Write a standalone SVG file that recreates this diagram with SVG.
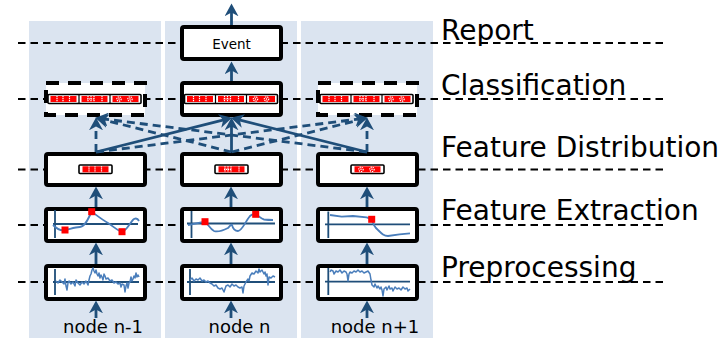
<svg xmlns="http://www.w3.org/2000/svg" xmlns:xlink="http://www.w3.org/1999/xlink" width="721" height="338" viewBox="0 0 721 338">
  <style>
    .panel { fill: #dbe4f0; }
    .guide { stroke: #000; stroke-width: 2; stroke-dasharray: 7.5 5; fill: none; }
    .box { fill: #fff; stroke: #000; stroke-width: 4; }
    .dbox { fill: #fff; stroke: #000; stroke-width: 4; stroke-dasharray: 13 9; }
    .bar { fill: #fff; stroke: #000; stroke-width: 1.6; }
    .axis { stroke: #1f4e79; stroke-width: 1.8; fill: none; }
    .sig { stroke: #4a7ebb; stroke-width: 1.8; fill: none; stroke-linejoin: round; }
    .noisy { stroke: #4a7ebb; stroke-width: 1.5; fill: none; stroke-linejoin: round; }
    .mark { fill: #ff0000; }
    .conn { stroke: #1f4e79; stroke-width: 2.8; fill: none; marker-end: url(#ah); }
    .dash { stroke-dasharray: 8 5; }
    .layer { font-family: "DejaVu Sans", Verdana, sans-serif; font-size: 28px; fill: #000; }
    .nodelbl { font-family: "DejaVu Sans", Verdana, sans-serif; font-size: 18px; fill: #000; text-anchor: middle; }
    .evt { font-family: "DejaVu Sans", Verdana, sans-serif; font-size: 13.5px; fill: #000; text-anchor: middle; }
    .wd { stroke: #fff; stroke-width: 1.2; stroke-dasharray: 1.2 0.8; fill: none; }
  </style>
  <defs>
    <marker id="ah" markerUnits="userSpaceOnUse" viewBox="0 0 12 13" markerWidth="13" markerHeight="14" refX="4" refY="6.5" orient="auto">
      <path d="M0 0 L12 6.5 L0 13 L3.5 6.5 Z" fill="#1f4e79"/>
    </marker>
    <!-- feature cell patterns, 31 x 9 -->
    <g id="s1">
      <rect x="2.5" y="1.5" width="26" height="6" class="mark"/>
      <path d="M9 1.5V7.5 M15 1.5V7.5 M21.5 1.5V7.5" class="wd"/>
    </g>
    <g id="s2">
      <rect x="2.5" y="1.5" width="26" height="6" class="mark"/>
      <path d="M9 1.5V7.5 M12 1.5V7.5 M15 1.5V7.5 M8 4.5H16 M23 1.5V7.5" class="wd"/>
    </g>
    <g id="s3">
      <rect x="2.5" y="1.5" width="26" height="6" class="mark"/>
      <circle cx="9" cy="4.5" r="2.2" class="wd"/>
      <circle cx="20" cy="4.5" r="2.2" class="wd"/>
      <path d="M9 3.8V5.2 M20 3.8V5.2" stroke="#fff" stroke-width="1.2"/>
    </g>
    <!-- three-cell feature vector, 93 x 9 -->
    <g id="vec">
      <rect x="0" y="0" width="93" height="9" rx="1" class="bar"/>
      <use xlink:href="#s1" x="0" y="0"/>
      <use xlink:href="#s2" x="31" y="0"/>
      <use xlink:href="#s3" x="62" y="0"/>
      <path d="M31 0V9 M62 0V9" stroke="#000" stroke-width="1.2"/>
    </g>
  </defs>

  <!-- node columns -->
  <g id="columns">
    <rect class="panel" x="29" y="21" width="132" height="317"/>
    <rect class="panel" x="165" y="21" width="132" height="317"/>
    <rect class="panel" x="301" y="21" width="132" height="317"/>
  </g>

  <!-- layer guides -->
  <g id="guides">
    <line class="guide" x1="18" y1="43" x2="668" y2="43"/>
    <line class="guide" x1="18" y1="99" x2="668" y2="99"/>
    <line class="guide" x1="18" y1="169.5" x2="668" y2="169.5"/>
    <line class="guide" x1="18" y1="225" x2="668" y2="225"/>
    <line class="guide" x1="18" y1="282" x2="668" y2="282"/>
  </g>

  <!-- report -->
  <g id="event">
    <rect class="box" x="182" y="27" width="99" height="32" rx="2"/>
    <text class="evt" x="231.5" y="49">Event</text>
  </g>

  <!-- classification -->
  <g id="class-n-1">
    <rect class="dbox" x="46" y="83" width="99" height="32"/>
    <use xlink:href="#vec" x="48" y="94.5"/>
  </g>
  <g id="class-n">
    <rect class="box" x="182" y="83" width="99" height="32" rx="2"/>
    <use xlink:href="#vec" x="184.5" y="94.5"/>
  </g>
  <g id="class-n+1">
    <rect class="dbox" x="318" y="83" width="99" height="32"/>
    <use xlink:href="#vec" x="320" y="94.5"/>
  </g>

  <!-- feature distribution -->
  <g id="dist-n-1">
    <rect class="box" x="46" y="154" width="99" height="31" rx="2"/>
    <rect class="bar" x="79" y="165" width="33" height="8.5" rx="1"/>
    <use xlink:href="#s1" x="80" y="164.8"/>
  </g>
  <g id="dist-n">
    <rect class="box" x="182" y="154" width="99" height="31" rx="2"/>
    <rect class="bar" x="215" y="165" width="33" height="8.5" rx="1"/>
    <use xlink:href="#s2" x="216" y="164.8"/>
  </g>
  <g id="dist-n+1">
    <rect class="box" x="318" y="154" width="99" height="31" rx="2"/>
    <rect class="bar" x="351" y="165" width="33" height="8.5" rx="1"/>
    <use xlink:href="#s3" x="352" y="164.8"/>
  </g>

  <!-- feature extraction -->
  <g id="extract-n-1">
    <rect class="box" x="46" y="209" width="99" height="32" rx="2"/>
    <path class="axis" d="M55 210V238 M53 224H138"/>
    <path class="sig" d="M53 225 C57 229 61 231 65 230 C70 229 75 227 80 227 C85 227 88 219 91.7 211.7 C95 214 101 219 108 223 C114 227 118 231 122 231.7 C127 231 130 222 134 219 C136 218 138 219 139 221"/>
    <rect class="mark" x="61.5" y="226.5" width="7" height="7"/>
    <rect class="mark" x="88.2" y="208.2" width="7" height="7"/>
    <rect class="mark" x="118.5" y="228.2" width="7" height="7"/>
  </g>
  <g id="extract-n">
    <rect class="box" x="182" y="209" width="99" height="32" rx="2"/>
    <path class="axis" d="M191.5 211V238 M187 223.5H275"/>
    <path class="sig" d="M188 225 C196 224 201 222 205 221.7 C208 224 210 229 214 231 C218 232.5 224 230 228 228 C230 226 231 224 232 225 C233 229 235 231 238 231 C242 231 245 222 250 216 C252 214 254 214 256 214.3 C259 216 261 219 264 219.5 C268 220 271 220 273 220"/>
    <rect class="mark" x="201.5" y="218.2" width="7" height="7"/>
    <rect class="mark" x="252.2" y="210.8" width="7" height="7"/>
  </g>
  <g id="extract-n+1">
    <rect class="box" x="318" y="209" width="99" height="32" rx="2"/>
    <path class="axis" d="M328.3 211.5V238 M325 224.3H410"/>
    <path class="sig" d="M330 215 L341.7 216.7 L353 216 L366.7 217.3 L371.7 219.3 C373 224 374 227 378 230 C382 234 384 236 388 236 C394 235 400 234 410 233.3"/>
    <rect class="mark" x="368.2" y="215.8" width="7" height="7"/>
  </g>

  <!-- preprocessing -->
  <g id="prep-n-1">
    <rect class="box" x="46" y="266" width="99" height="33" rx="2"/>
    <path class="axis" d="M55 269V295 M53 282H139"/>
    <polyline class="noisy" points="56,281 58,283 60,280 62,282 64,284 65,279 66,286 67,290 68,283 69,281 71,284 73,282 75,286 76,280 78,283 80,285 82,282 84,284 86,281 88,285 89,280 90,276 91,274 92,270 93,268 94,271 95,273 96,270 97,274 98,276 99,273 100,278 101,275 102,277 103,280 104,274 105,276 106,279 108,278 110,281 112,280 114,283 116,282 118,284 120,283 121,287 122,284 124,285 125,292 126,286 127,283 128,288 129,283 130,282 131,277 132,281 133,279 134,276 135,278 136,273 137,277 138,275 139,277"/>
  </g>
  <g id="prep-n">
    <rect class="box" x="182" y="266" width="99" height="33" rx="2"/>
    <path class="axis" d="M190 269V295 M187 282H275"/>
    <polyline class="noisy" points="190,280 192,278 194,281 196,279 198,280 200,278 202,281 204,280 206,282 208,281 210,283 212,284 214,286 216,285 218,288 220,289 222,288 224,292 225,289 226,286 228,285 230,287 232,284 234,286 236,285 238,287 240,288 242,287 243,293 244,286 246,282 248,279 249,281 250,276 252,273 254,274 256,271 258,273 259,269 260,272 262,270 264,274 265,272 266,276 267,274 268,285 269,277 271,278 273,276 275,277"/>
  </g>
  <g id="prep-n+1">
    <rect class="box" x="318" y="266" width="99" height="33" rx="2"/>
    <path class="axis" d="M328.3 268V295 M325 281.7H410"/>
    <polyline class="noisy" points="330,272 331,270 333,271 334,274 336,271 338,272 340,270 342,273 344,271 346,272 347,274 348,281 349,274 350,272 352,273 354,271 356,272 358,270 360,272 362,271 364,273 366,272 368,271 370,274 371,280 372,285 374,287 375,284 377,288 378,286 380,289 381,287 382,290 383,296 384,289 386,287 387,290 389,286 390,289 392,288 393,291 395,287 397,289 399,288 401,290 403,287 405,289 407,288 408,291 410,289"/>
  </g>

  <!-- connectors -->
  <g id="connectors">
    <!-- sensor input -->
    <line class="conn" x1="96" y1="318" x2="96" y2="309"/>
    <line class="conn" x1="231" y1="318" x2="231" y2="309"/>
    <line class="conn" x1="367" y1="318" x2="367" y2="309"/>
    <!-- preprocessing to extraction -->
    <line class="conn" x1="96" y1="264" x2="96" y2="251"/>
    <line class="conn" x1="231" y1="264" x2="231" y2="251"/>
    <line class="conn" x1="367" y1="264" x2="367" y2="251"/>
    <!-- extraction to distribution -->
    <line class="conn" x1="96" y1="207" x2="96" y2="195"/>
    <line class="conn" x1="231" y1="207" x2="231" y2="195"/>
    <line class="conn" x1="367" y1="207" x2="367" y2="195"/>
    <!-- distribution to the central classifier -->
    <line class="conn" x1="231.5" y1="152" x2="231.5" y2="126"/>
    <line class="conn" x1="96" y1="152" x2="223.74" y2="119.95"/>
    <line class="conn" x1="367" y1="152" x2="239.26" y2="119.95"/>
    <!-- distribution to the neighbour classifiers -->
    <line class="conn dash" x1="96" y1="152" x2="96" y2="126"/>
    <line class="conn dash" x1="231.5" y1="152" x2="103.76" y2="119.95"/>
    <line class="conn dash" x1="367" y1="152" x2="103.94" y2="119"/>
    <line class="conn dash" x1="367" y1="152" x2="367" y2="126"/>
    <line class="conn dash" x1="231.5" y1="152" x2="359.24" y2="119.95"/>
    <line class="conn dash" x1="96" y1="152" x2="359.06" y2="119"/>
    <!-- classification to report -->
    <line class="conn" x1="231.5" y1="81" x2="231.5" y2="70"/>
    <line class="conn" x1="231.5" y1="25" x2="231.5" y2="12"/>
  </g>

  <!-- layer names -->
  <g id="layers">
    <text class="layer" x="441" y="40">Report</text>
    <text class="layer" x="441" y="95">Classification</text>
    <text class="layer" x="441" y="157">Feature Distribution</text>
    <text class="layer" x="441" y="220">Feature Extraction</text>
    <text class="layer" x="441" y="277">Preprocessing</text>
  </g>

  <!-- node names -->
  <g id="node-labels">
    <text class="nodelbl" x="103" y="333">node n-1</text>
    <text class="nodelbl" x="239.5" y="333">node n</text>
    <text class="nodelbl" x="375" y="333">node n+1</text>
  </g>
</svg>
